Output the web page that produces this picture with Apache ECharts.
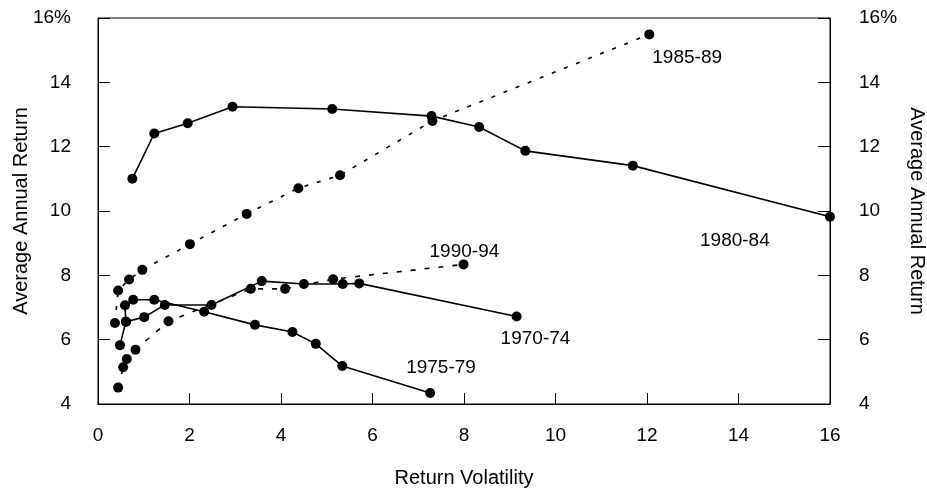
<!DOCTYPE html>
<html>
<head>
<meta charset="utf-8">
<script src="https://cdn.jsdelivr.net/npm/echarts@6/dist/echarts.min.js"></script>
<style>
  html, body { margin: 0; padding: 0; background: #fff; }
  #chart { width: 927px; height: 492px; }
</style>
</head>
<body>
<div id="chart"></div>
<script>
// return volatility (x) and average annual return (y) per period
var vol7074 = [0.48, 0.61, 1.01, 1.46, 2.48, 3.58, 4.50, 5.35, 5.71, 9.15]
var ret7074 = [5.83, 6.56, 6.70, 7.08, 7.08, 7.82, 7.73, 7.73, 7.75, 6.72]

var vol7579 = [0.61, 0.59, 0.77, 1.23, 2.32, 3.43, 4.25, 4.76, 5.34, 7.26]
var ret7579 = [6.56, 7.07, 7.24, 7.24, 6.87, 6.46, 6.24, 5.87, 5.18, 4.34]

var vol8084 = [0.75, 1.23, 1.96, 2.94, 5.12, 7.29, 8.33, 9.34, 11.69, 16.0]
var ret8084 = [11.0, 12.41, 12.73, 13.24, 13.17, 12.95, 12.61, 11.87, 11.41, 9.82]

var vol8589 = [0.37, 0.44, 0.68, 0.97, 2.01, 3.25, 4.38, 5.29, 7.31, 12.05]
var ret8589 = [6.52, 7.53, 7.87, 8.17, 8.97, 9.91, 10.71, 11.11, 12.80, 15.49]

var vol9094 = [0.44, 0.55, 0.63, 0.82, 1.54, 3.34, 4.09, 5.14, 7.99]
var ret9094 = [4.51, 5.14, 5.40, 5.69, 6.57, 7.58, 7.58, 7.88, 8.34]

var xTicks = [0, 2, 4, 6, 8, 10, 12, 14, 16]
var yTicks = ['4', '6', '8', '10', '12', '14', '16%']

var font = "'Liberation Sans', Arial, sans-serif"

// zip x/y and put the period name next to the last point
function makeData(xs, ys, name, pos) {
  var d = xs.map(function (x, i) { return [x, ys[i]] })
  var last = d.length - 1
  d[last] = {
    value: d[last],
    label: {
      show: true,
      formatter: name,
      position: pos,
      color: '#000',
      fontSize: 19,
      fontFamily: font
    }
  }
  return d
}

function lineSeries(name, xs, ys, type, pos) {
  return {
    name: name,
    type: 'line',
    symbol: 'circle',
    symbolSize: 10,
    clip: false,
    itemStyle: { color: '#000' },
    lineStyle: { color: '#000', width: 1.6, type: type },
    emphasis: { disabled: true },
    data: makeData(xs, ys, name, pos)
  }
}

function yAxisOpt(side) {
  return {
    type: 'value',
    position: side,
    min: 4,
    max: 16,
    interval: 2,
    name: 'Average Annual Return',
    nameLocation: 'middle',
    nameRotate: side === 'left' ? 90 : -90,
    nameGap: side === 'left' ? 67 : 77,
    nameMoveOverlap: false,
    nameTextStyle: { color: '#000', fontSize: 20, fontFamily: font },
    axisLine: { show: true, onZero: false, lineStyle: { color: '#000', width: 1 } },
    axisTick: { show: true, inside: true, length: 12, lineStyle: { color: '#000' } },
    axisLabel: {
      color: '#000',
      fontSize: 19,
      fontFamily: font,
      margin: side === 'left' ? 27 : 29,
      formatter: function (v) { return yTicks[(v - 4) / 2] }
    },
    splitLine: { show: false }
  }
}

var option = {
  animation: false,
  backgroundColor: '#fff',
  grid: {
    left: 98,
    right: 97,
    top: 18,
    bottom: 88,
    outerBoundsMode: 'none',
    show: true,
    borderColor: '#000',
    borderWidth: 1
  },
  xAxis: {
    type: 'value',
    min: 0,
    max: 16,
    interval: 2,
    name: 'Return Volatility',
    nameLocation: 'middle',
    nameGap: 64,
    nameMoveOverlap: false,
    nameTextStyle: { color: '#000', fontSize: 20, fontFamily: font },
    axisLine: { show: true, onZero: false, lineStyle: { color: '#000', width: 1 } },
    axisTick: { show: true, inside: true, length: 11, lineStyle: { color: '#000' } },
    axisLabel: {
      color: '#000',
      fontSize: 19,
      fontFamily: font,
      margin: 22,
      formatter: function (v) { return xTicks.indexOf(v) >= 0 ? String(v) : '' }
    },
    splitLine: { show: false }
  },
  yAxis: [yAxisOpt('left'), yAxisOpt('right')],
  series: [
    lineSeries('1970-74', vol7074, ret7074, 'solid', [-11, 18]),
    lineSeries('1975-79', vol7579, ret7579, 'solid', [-19, -30]),
    lineSeries('1980-84', vol8084, ret8084, 'solid', [-125, 19]),
    lineSeries('1985-89', vol8589, ret8589, [4, 9], [8, 19]),
    lineSeries('1990-94', vol9094, ret9094, [5, 9], [-29, -17])
  ]
}

var chart = echarts.init(document.getElementById('chart'))
chart.setOption(option)
</script>
</body>
</html>
